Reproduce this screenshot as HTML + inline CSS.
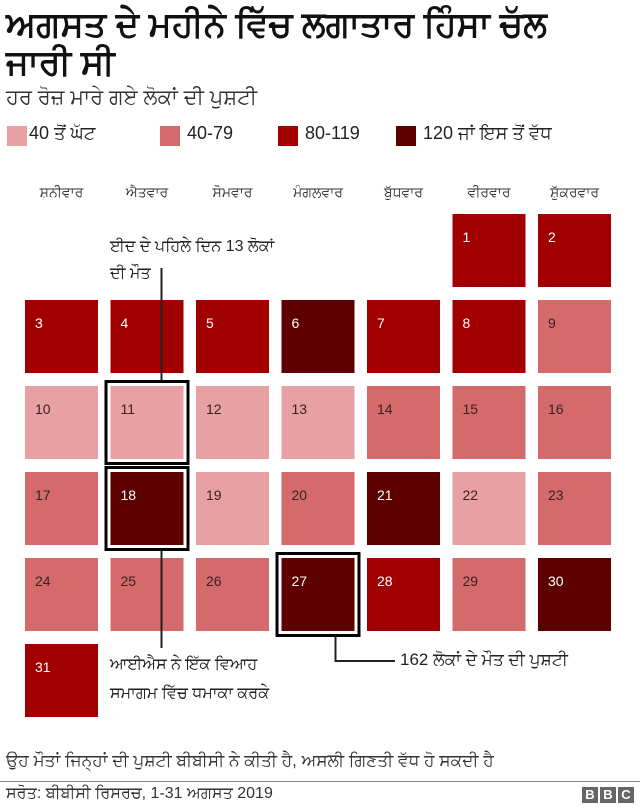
<!DOCTYPE html>
<html><head><meta charset="utf-8">
<style>
html,body{margin:0;padding:0;background:#fff;}
body{width:640px;height:808px;overflow:hidden;position:relative;font-family:"Liberation Sans","DejaVu Sans",sans-serif;color:#222;}
.t{position:absolute;white-space:nowrap;}
</style></head><body>
<div class="t" style="left:6px;top:6px;font-size:35px;font-weight:bold;line-height:38px;color:#111">ਅਗਸਤ ਦੇ ਮਹੀਨੇ ਵਿੱਚ ਲਗਾਤਾਰ ਹਿੰਸਾ ਚੱਲ<br>ਜਾਰੀ ਸੀ</div>
<div class="t" style="left:6px;top:86px;font-size:21px;color:#333">ਹਰ ਰੋਜ਼ ਮਾਰੇ ਗਏ ਲੋਕਾਂ ਦੀ ਪੁਸ਼ਟੀ</div>
<div>
<div style="position:absolute;left:7px;top:126px;width:20px;height:20px;background:#e8a1a3"></div>
<div class="t" style="left:29px;top:123px;font-size:18px">40 ਤੋਂ ਘੱਟ</div>
<div style="position:absolute;left:160px;top:126px;width:20px;height:20px;background:#d46a6b"></div>
<div class="t" style="left:187px;top:123px;font-size:18px">40-79</div>
<div style="position:absolute;left:278px;top:126px;width:20px;height:20px;background:#a00000"></div>
<div class="t" style="left:305px;top:123px;font-size:18px">80-119</div>
<div style="position:absolute;left:396px;top:126px;width:20px;height:20px;background:#5c0000"></div>
<div class="t" style="left:423px;top:123px;font-size:18px">120 ਜਾਂ ਇਸ ਤੋਂ ਵੱਧ</div>
</div>
<svg id="chart" width="640" height="808" style="position:absolute;left:0;top:0" xmlns="http://www.w3.org/2000/svg"></svg>
<div class="t" style="left:110px;top:233px;font-size:16px;line-height:27px;color:#222">ਈਦ ਦੇ ਪਹਿਲੇ ਦਿਨ 13 ਲੋਕਾਂ<br>ਦੀ ਮੌਤ</div>
<div class="t" style="left:110px;top:650px;font-size:16px;line-height:29px;color:#222">ਆਈਐਸ ਨੇ ਇੱਕ ਵਿਆਹ<br>ਸਮਾਗਮ ਵਿੱਚ ਧਮਾਕਾ ਕਰਕੇ</div>
<div class="t" style="left:400px;top:650px;font-size:17px;color:#222">162 ਲੋਕਾਂ ਦੇ ਮੌਤ ਦੀ ਪੁਸ਼ਟੀ</div>
<div class="t" style="left:6px;top:751px;font-size:17px;color:#333">ਉਹ ਮੌਤਾਂ ਜਿਨ੍ਹਾਂ ਦੀ ਪੁਸ਼ਟੀ ਬੀਬੀਸੀ ਨੇ ਕੀਤੀ ਹੈ, ਅਸਲੀ ਗਿਣਤੀ ਵੱਧ ਹੋ ਸਕਦੀ ਹੈ</div>
<div style="position:absolute;left:0;top:781px;width:640px;height:1px;background:#888"></div>
<div class="t" style="left:6px;top:785px;font-size:16px;color:#333">ਸਰੋਤ: ਬੀਬੀਸੀ ਰਿਸਰਚ, 1-31 ਅਗਸਤ 2019</div>
<div style="position:absolute;left:582px;top:787px;display:flex;gap:2px">
<span style="width:16px;height:16px;background:#666;color:#fff;font:bold 13px 'Liberation Sans',sans-serif;text-align:center;line-height:16px">B</span>
<span style="width:16px;height:16px;background:#666;color:#fff;font:bold 13px 'Liberation Sans',sans-serif;text-align:center;line-height:16px">B</span>
<span style="width:16px;height:16px;background:#666;color:#fff;font:bold 13px 'Liberation Sans',sans-serif;text-align:center;line-height:16px">C</span>
</div>
<script>
const weekdays = ["ਸ਼ਨੀਵਾਰ","ਐਤਵਾਰ","ਸੋਮਵਾਰ","ਮੰਗਲਵਾਰ","ਬੁੱਧਵਾਰ","ਵੀਰਵਾਰ","ਸ਼ੁੱਕਰਵਾਰ"];
const days = [1,2,3,4,5,6,7,8,9,10,11,12,13,14,15,16,17,18,19,20,21,22,23,24,25,26,27,28,29,30,31];
const deaths = [95,90,85,100,90,130,95,85,60,30,13,25,30,50,55,60,50,140,30,60,125,35,60,55,60,60,162,100,60,125,90];
const thresholds = [40,80,120];
const colors = ["#e8a1a3","#d46a6b","#a00000","#5c0000"];
const highlighted = [11,18,27];
const firstWeekday = 5; // Aug 1 2019 = Thursday (column index 5 in Sat-first order)

const svg = document.getElementById('chart');
const NS = "http://www.w3.org/2000/svg";
const colX = c => 25 + c * 85.5;
const rowY = r => 214 + r * 86;
const CELL = 73;
function colorFor(v){let i=0;while(i<thresholds.length&&v>=thresholds[i])i++;return colors[i];}

weekdays.forEach((w,i)=>{
  const t=document.createElementNS(NS,'text');
  
  
  t.setAttribute('x',colX(i)+CELL/2);t.setAttribute('y',197);
  t.setAttribute('text-anchor','middle');t.setAttribute('font-size','14');t.setAttribute('fill','#333');
  t.setAttribute('font-family','Liberation Sans, DejaVu Sans, sans-serif');
  t.textContent=w;svg.appendChild(t);
});

days.forEach((d,i)=>{
  const pos=firstWeekday+i, c=pos%7, r=Math.floor(pos/7);
  const x=colX(c), y=rowY(r), fill=colorFor(deaths[i]);
  const rect=document.createElementNS(NS,'rect');
  
  
  rect.setAttribute('x',x);rect.setAttribute('y',y);rect.setAttribute('width',CELL);rect.setAttribute('height',CELL);
  rect.setAttribute('fill',fill);svg.appendChild(rect);
  const t=document.createElementNS(NS,'text');
  
  
  t.setAttribute('x',x+10);t.setAttribute('y',y+28);t.setAttribute('font-size','14');
  t.setAttribute('font-family','Liberation Sans, sans-serif');
  t.setAttribute('fill',deaths[i]>=thresholds[1]?'#fff':'#3a2020');
  t.textContent=d;svg.appendChild(t);
  if(highlighted.includes(d)){
    const h=document.createElementNS(NS,'rect');
    
    
    h.setAttribute('x',x-4.5);h.setAttribute('y',y-4.5);h.setAttribute('width',CELL+9);h.setAttribute('height',CELL+9);
    h.setAttribute('fill','none');h.setAttribute('stroke','#000');h.setAttribute('stroke-width','3');
    svg.appendChild(h);
  }
});

function cellOf(d){const pos=firstWeekday+d-1;return {x:colX(pos%7),y:rowY(Math.floor(pos/7))};}
function line(pts,name){
  const p=document.createElementNS(NS,'polyline');
  
  
  p.setAttribute('points',pts.map(q=>q.join(',')).join(' '));
  p.setAttribute('fill','none');p.setAttribute('stroke','#222');p.setAttribute('stroke-width','2');
  svg.appendChild(p);
}
const c11=cellOf(11),c18=cellOf(18),c27=cellOf(27);
line([[c11.x+51,c11.y-6],[c11.x+51,268]],'leader-line-eid');
line([[c18.x+51,c18.y+CELL+6],[c18.x+51,648]],'leader-line-isis');
line([[c27.x+54,c27.y+CELL+6],[c27.x+54,661],[395,661]],'leader-line-162');
</script>
</body></html>
